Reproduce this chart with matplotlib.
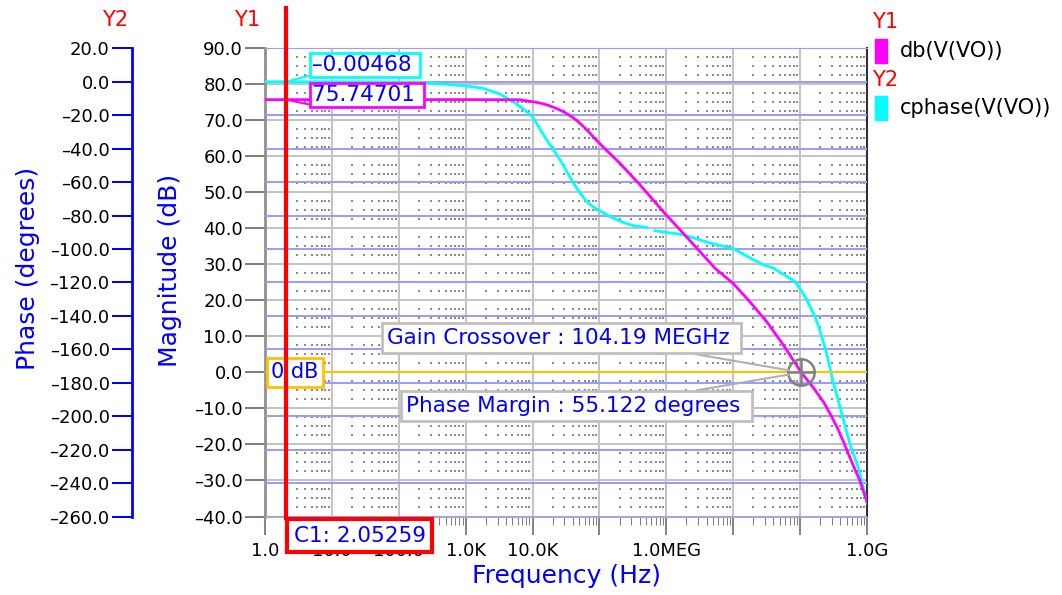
import matplotlib.pyplot as plt
import numpy as np
from matplotlib.patches import Rectangle
from matplotlib.ticker import LogLocator, NullFormatter
from matplotlib.transforms import blended_transform_factory

W, H = 1062, 595

# db(V(VO)) : log10(freq) -> magnitude (dB)
mag_logf = [0.0, 3.0, 3.81, 4.06, 4.16, 4.26, 4.37, 4.48, 4.57, 4.66, 4.76, 4.86,
            4.95, 5.05, 5.31, 5.61, 6.00, 6.30, 6.50, 6.73, 7.00, 7.25, 7.50, 7.75,
            8.0178, 8.20, 8.35, 8.45, 8.55, 8.65, 8.74, 8.82, 8.89, 8.95, 9.0]
mag_db = [75.74701, 75.74701, 75.7, 75.0, 74.6, 74.0, 73.2, 72.2, 71.2, 70.0, 68.3,
          66.4, 64.6, 62.7, 58.0, 52.0, 43.7, 37.7, 33.6, 28.9, 24.7, 19.6, 14.1, 7.6,
          0.0, -4.3, -8.2, -11.5, -15.1, -19.3, -23.4, -26.9, -29.9, -33.2, -35.9]

# cphase(V(VO)) : log10(freq) -> phase (degrees), nan = gap in the trace
ph_logf = [0.0, 1.0, 2.0, 2.5, 3.0, 3.26, 3.51, 3.71, 3.80, 3.91, 4.00, 4.06, 4.13,
           4.21, 4.31, 4.41, 4.51, 4.61, 4.71, 4.81, 4.91, 5.01, 5.13, 5.26, 5.38,
           5.51, 5.71, np.nan, 5.83, 6.25, 6.65, 7.00, 7.30, 7.45, 7.60, 7.92, 8.0178,
           8.10, 8.15, 8.22, 8.27, 8.32, 8.38, 8.43, 8.49, 8.56, 8.62, 8.68, 8.74,
           8.81, 8.88, 8.94, 9.0]
ph_deg = [-0.00468, -0.00468, -0.3, -0.9, -2.5, -3.9, -7.3, -11.9, -14.5, -17.8,
          -21.0, -24.8, -29.5, -34.7, -40.5, -46.7, -53.5, -60.6, -66.5, -71.6,
          -75.0, -77.2, -80.0, -82.5, -84.5, -86.1, -87.1, np.nan, -89.1, -91.5,
          -96.4, -99.8, -106.4, -109.4, -111.4, -119.3, -124.878, -130.3, -134.5,
          -140.2, -145.5, -152.2, -160.0, -168.1, -179.0, -189.0, -198.0, -207.0,
          -216.0, -224.0, -232.0, -242.0, -252.0]

cursor_freq = 2.05259
gain_cross = 104.19e6
phase_margin = 55.122

y1_ticks = list(range(-40, 91, 10))
y2_ticks = list(range(-260, 21, 20))
x_ticks = [10.0 ** n for n in range(10)]
x_labels = ["1.0", "10.0", "100.0", "1.0K", "10.0K", "", "1.0MEG", "", "", "1.0G"]

BLUE = "#0000ff"
MAG = "#ff00ff"
CYAN = "#00ffff"
PX = 0.72  # points per pixel at 100 dpi


def fx(x):
    return x / W


def fy(y):
    return 1 - y / H


def fmt(v, nd=1):
    return f"{v:.{nd}f}".replace("-", "\u2013")


mag_f = 10 ** np.array(mag_logf)
ph_f = 10 ** np.array(ph_logf)

fig = plt.figure(figsize=(W / 100, H / 100), dpi=100)
L, R, T, B = 265, 867, 48.3, 516.5
rect = [fx(L), fy(B), (R - L) / W, (B - T) / H]

# background axes: Y1 scale, grid, ticks
ax = fig.add_axes(rect)
ax.set_xscale("log")
ax.set_xlim(1, 1e9)
ax.set_ylim(-40, 90)
ax.set_yticks(y1_ticks)
ax.set_yticklabels([fmt(v) for v in y1_ticks])
ax.set_xticks(x_ticks)
ax.set_xticklabels(x_labels)
ax.xaxis.set_minor_locator(LogLocator(base=10, subs=np.arange(2, 10), numticks=100))
ax.xaxis.set_minor_formatter(NullFormatter())
ax.tick_params(axis="y", length=20 * PX, width=2 * PX, color="#808080", pad=2 * PX, labelsize=13)
ax.tick_params(axis="x", which="major", length=18 * PX, width=1.5 * PX, color="#606060",
               pad=7 * PX, labelsize=13)
ax.tick_params(axis="x", which="minor", length=8 * PX, width=1 * PX, color="#808080")
ax.grid(which="major", color="#c4c4c4", lw=2 * PX)
for s in ["top", "bottom"]:
    ax.spines[s].set_color("#b0b0b0")
ax.spines["left"].set_color("#909090")
ax.spines["left"].set_linewidth(2)
ax.spines["right"].set_color("#303030")
ax.spines["right"].set_linewidth(1.5)

# dotted minor grid
minor_x = [k * 10.0 ** n for n in range(9) for k in range(2, 10)]
minor_y = [v + d for v in y1_ticks[:-1] for d in (2.5, 5.0, 7.5)]
gx, gy = np.meshgrid(minor_x, minor_y)
ax.scatter(gx.ravel(), gy.ravel(), s=0.9, marker="s", color="#8c8c8c", lw=0, zorder=1)

# Y2 axes: phase
ax2 = fig.add_axes(rect, sharex=ax)
ax2.patch.set_visible(False)
ax2.set_ylim(-260, 20)
ax2.set_yticks(y2_ticks)
ax2.set_yticklabels([fmt(v) for v in y2_ticks])
ax2.set_axisbelow(True)
ax2.grid(axis="y", color="#9c9cff", lw=2 * PX)
ax2.grid(axis="x", visible=False)
ax2.tick_params(axis="x", which="both", bottom=False, labelbottom=False)
ax2.tick_params(axis="y", length=20 * PX, width=2 * PX, color=BLUE, pad=2 * PX, labelsize=13)
for s in ["top", "right", "bottom"]:
    ax2.spines[s].set_visible(False)
ax2.spines["left"].set_position(("axes", (131.7 - L) / (R - L)))
ax2.spines["left"].set_color(BLUE)
ax2.spines["left"].set_linewidth(2)
ax2.plot(ph_f, ph_deg, color=CYAN, lw=2, zorder=3)

# Y1 overlay: magnitude and annotations
ax3 = fig.add_axes(rect, sharex=ax)
ax3.patch.set_visible(False)
ax3.set_ylim(-40, 90)
ax3.axis("off")
ax3.axhline(0, color="#ffc000", lw=1.5, zorder=2)
ax3.plot(mag_f, mag_db, color=MAG, lw=2, zorder=3)

# gain crossover marker
ax3.plot(gain_cross, 0, marker="o", ms=19, mfc="none", mec="#808080", mew=1.8, zorder=4)
ax3.plot(gain_cross, 0, marker="+", ms=19, mec="#808080", mew=1.8, zorder=4)

ann_font = 15.5
box_gray = dict(boxstyle="square,pad=0.22", fc="white", ec="#c0c0c0", lw=2)
ax3.annotate(f"Gain Crossover : {gain_cross / 1e6:.2f} MEGHz ", xy=(gain_cross, 0),
             xytext=(386.7, H - 338), textcoords="figure pixels", ha="left", va="center",
             color=BLUE, fontsize=ann_font, bbox=box_gray, zorder=5,
             arrowprops=dict(arrowstyle="-", color="#b0b0b0", lw=1.5, relpos=(0.78, 0),
                             shrinkA=0, shrinkB=9))
ax3.annotate(f"Phase Margin : {phase_margin:.3f} degrees ", xy=(gain_cross, 0),
             xytext=(405.7, H - 406), textcoords="figure pixels", ha="left", va="center",
             color=BLUE, fontsize=ann_font, bbox=box_gray, zorder=5,
             arrowprops=dict(arrowstyle="-", color="#b0b0b0", lw=1.5, relpos=(0.756, 1),
                             shrinkA=0, shrinkB=9))

# 0 dB marker label
ax3.annotate("0 dB", xy=(1, 0), xytext=(6, 0), textcoords="offset pixels",
             ha="left", va="center", color=BLUE, fontsize=15, zorder=6,
             bbox=dict(boxstyle="square,pad=0.2", fc="white", ec="#ffc000", lw=2))

# cursor C1 readouts
log_c = np.log10(cursor_freq)
c_db = np.interp(log_c, mag_logf, mag_db)
c_ph = np.interp(log_c, ph_logf[:27], ph_deg[:27])
ax3.annotate(fmt(c_db, 5) + " ", xy=(cursor_freq, c_db), xytext=(311.7, H - 95),
             textcoords="figure pixels", ha="left", va="center", color=BLUE,
             fontsize=ann_font, zorder=6,
             bbox=dict(boxstyle="square,pad=0.1", fc="white", ec=MAG, lw=2),
             arrowprops=dict(arrowstyle="-", color=MAG, lw=1.5, relpos=(0, 0), shrinkA=0, shrinkB=0))
ax2.annotate(fmt(c_ph, 5) + " ", xy=(cursor_freq, c_ph), xytext=(311.7, H - 65),
             textcoords="figure pixels", ha="left", va="center", color=BLUE,
             fontsize=ann_font, zorder=6,
             bbox=dict(boxstyle="square,pad=0.1", fc="white", ec=CYAN, lw=2),
             arrowprops=dict(arrowstyle="-", color=CYAN, lw=1.5, relpos=(0, 0), shrinkA=0, shrinkB=0))

# cursor line and its frequency box
cur_tr = blended_transform_factory(ax3.transData, fig.transFigure)
ax3.plot([cursor_freq, cursor_freq], [fy(8), fy(518)], transform=cur_tr, color="#ff0000",
         lw=3, clip_on=False, zorder=10)
ax3.annotate(f"C1: {cursor_freq:.5f}", xy=(cursor_freq, fy(535.5)), xycoords=cur_tr,
             xytext=(8, 0), textcoords="offset pixels", ha="left", va="center",
             color=BLUE, fontsize=ann_font, zorder=11, annotation_clip=False,
             bbox=dict(boxstyle="square,pad=0.3", fc="white", ec="#ff0000", lw=3))

# axis titles
fig.text(fx(28), fy(268), "Phase (degrees)", rotation=90, ha="center", va="center",
         color=BLUE, fontsize=18)
fig.text(fx(170), fy(270), "Magnitude (dB)", rotation=90, ha="center", va="center",
         color=BLUE, fontsize=18)
fig.text(fx(566), fy(576), "Frequency (Hz)", ha="center", va="center", color=BLUE, fontsize=18)
fig.text(fx(115), fy(20), "Y2", ha="center", va="center", color="#ff0000", fontsize=15)
fig.text(fx(247), fy(20), "Y1", ha="center", va="center", color="#ff0000", fontsize=15)

# legend
for tag, ty, col, name, ny in [("Y1", 22, MAG, "db(V(VO))", 51),
                                ("Y2", 80, CYAN, "cphase(V(VO))", 108)]:
    fig.text(fx(885), fy(ty), tag, ha="center", va="center", color="#ff0000", fontsize=15)
    fig.patches.append(Rectangle((fx(875), fy(ny + 12)), 12 / W, 24 / H,
                                 transform=fig.transFigure, color=col))
    fig.text(fx(900), fy(ny), name, ha="left", va="center", color="black", fontsize=15)

fig.savefig("out.png", dpi=100)
